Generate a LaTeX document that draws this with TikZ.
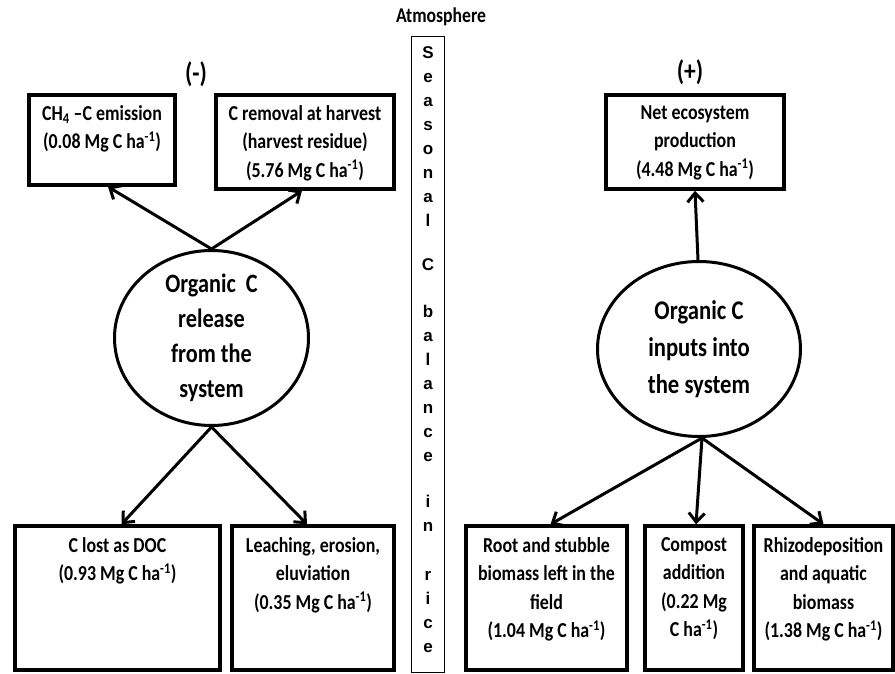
\documentclass[tikz,border=0pt]{standalone}
\usepackage{fontspec}
\setmainfont[FakeStretch=0.84]{Carlito}
\newfontfamily\colfont{Liberation Sans}
\usetikzlibrary{arrows.meta,shapes.geometric}
\begin{document}
\begin{tikzpicture}[x=1pt,y=-1pt,
 box/.style={draw, line width=3.5pt, inner sep=0pt},
 boxtext/.style={anchor=north, inner sep=0pt, align=center, font=\bfseries\fontsize{21.3}{28.5}\selectfont},
 ellip/.style={draw, ellipse, line width=3pt, inner sep=0pt},
 elltext/.style={align=center, inner sep=0pt},
 arr/.style={line width=3pt, -{Straight Barb[length=9pt,width=16pt]}},
 sign/.style={inner sep=0pt, font=\bfseries\fontsize{28}{30}\selectfont},
]
\useasboundingbox (0,0) rectangle (895,674);
\fill[white] (0,0) rectangle (895,674);

% column
\node[draw, line width=1pt, minimum width=33pt, minimum height=635pt, inner sep=0pt] (colbox) at (427.5,354.5) {};
\node[inner sep=0pt, anchor=north, align=center, font=\colfont\bfseries\fontsize{17}{24}\selectfont] (coltext) at (428,46)
 {S\\e\\a\\s\\o\\n\\a\\l\\[20pt]C\\[23pt]b\\a\\l\\a\\n\\c\\e\\[22pt]i\\n\\[25pt]r\\i\\c\\e};
\node[inner sep=0pt, font=\bfseries\fontsize{21}{24}\selectfont] (atm) at (441,17) {Atmosphere};

% signs
\node[sign] (minus) at (196,74) {(-)};
\node[sign] (plus) at (690,72) {(+)};

% top boxes
\node[box, minimum width=146pt, minimum height=90pt] (ch4) at (102,140) {};
\node[boxtext] (ch4t) at ([yshift=-12pt]ch4.north) {CH\textsubscript{4} –C emission\\(0.08 Mg C ha\textsuperscript{-1})};
\node[box, minimum width=178pt, minimum height=94pt] (crem) at (305,142) {};
\node[boxtext] (cremt) at ([yshift=-12pt]crem.north) {C removal at harvest\\(harvest residue)\\(5.76 Mg C ha\textsuperscript{-1})};
\node[box, minimum width=178pt, minimum height=94pt] (nep) at (695,142) {};
\node[boxtext] (nept) at ([yshift=-12pt]nep.north) {Net ecosystem\\production\\(4.48 Mg C ha\textsuperscript{-1})};

% bottom boxes
\node[box, minimum width=205pt, minimum height=144pt] (doc) at (117.5,598) {};
\node[boxtext] (doct) at ([yshift=-13pt]doc.north) {C lost as DOC\\(0.93 Mg C ha\textsuperscript{-1})};
\node[box, minimum width=162pt, minimum height=144pt] (leach) at (313,598) {};
\node[boxtext] (leacht) at ([yshift=-13pt]leach.north) {Leaching, erosion,\\eluviation\\(0.35 Mg C ha\textsuperscript{-1})};
\node[box, minimum width=161pt, minimum height=144pt] (root) at (546.5,598) {};
\node[boxtext] (roott) at ([yshift=-13pt]root.north) {Root and stubble\\biomass left in the\\field\\(1.04 Mg C ha\textsuperscript{-1})};
\node[box, minimum width=98pt, minimum height=144pt] (comp) at (694,598) {};
\node[boxtext] (compt) at ([yshift=-13pt]comp.north) {Compost\\addition\\(0.22 Mg\\C ha\textsuperscript{-1})};
\node[box, minimum width=139pt, minimum height=144pt] (rhizo) at (823.5,598) {};
\node[boxtext] (rhizot) at ([yshift=-13pt]rhizo.north) {Rhizodeposition\\and aquatic\\biomass\\(1.38 Mg C ha\textsuperscript{-1})};

% ellipses
\node[ellip, minimum width=194pt, minimum height=175pt] (rel) at (211.5,338) {};
\node[elltext, font=\bfseries\fontsize{26.5}{35}\selectfont] (relt) at (rel.center) {Organic~ C\\release\\from the\\system};
\node[ellip, minimum width=203pt, minimum height=175pt] (inp) at (699,349) {};
\node[elltext, font=\bfseries\fontsize{27}{37}\selectfont] (inpt) at (inp.center) {Organic C\\inputs into\\the system};

% arrows
\draw[arr] (rel.north) -- ([xshift=6pt]ch4.south);
\draw[arr] (rel.north) -- ([xshift=-3pt]crem.south);
\draw[arr] (rel.south) -- ([xshift=4pt]doc.north);
\draw[arr] (rel.south) -- ([xshift=-6pt]leach.north);
\draw[arr] ([xshift=-1pt]inp.north) -- (nep.south);
\draw[arr] ([xshift=3pt]inp.south) -- ([xshift=4pt]root.north);
\draw[arr] ([xshift=3pt]inp.south) -- ([xshift=2pt]comp.north);
\draw[arr] ([xshift=3pt]inp.south) -- (rhizo.north);
\end{tikzpicture}
\end{document}
